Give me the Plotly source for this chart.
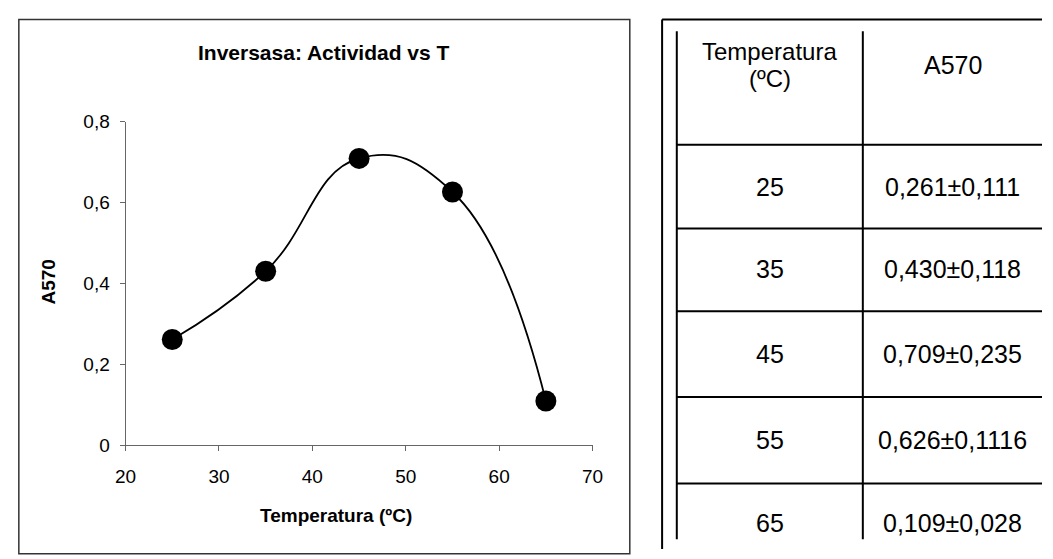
import plotly.graph_objects as go

# Inverse-sucrase activity vs temperature
temperatures = [25, 35, 45, 55, 65]
a570_mean = [0.261, 0.430, 0.709, 0.626, 0.109]
a570_sd_text = ["0,111", "0,118", "0,235", "0,1116", "0,028"]

x_ticks = [20, 30, 40, 50, 60, 70]
y_ticks = [0, 0.2, 0.4, 0.6, 0.8]

W, H = 1053, 559
FONT = "Arial, Liberation Sans, sans-serif"


def px(x):
    return x / W


def py(y):
    return 1 - y / H


fig = go.Figure()
fig.add_trace(go.Scatter(
    x=temperatures, y=a570_mean, mode="lines+markers",
    line=dict(color="black", width=1.8, shape="spline", smoothing=1.3),
    marker=dict(color="black", size=21),
    showlegend=False, hoverinfo="skip",
))

axis_font = dict(family=FONT, size=19, color="black")
fig.update_layout(
    width=W, height=H,
    margin=dict(l=0, r=0, t=0, b=0),
    paper_bgcolor="white", plot_bgcolor="white",
    separators=",.",
    xaxis=dict(
        domain=[px(117), px(594)], range=[20, 70],
        tickvals=x_ticks, ticks="outside", ticklen=5, tickcolor="#666",
        showline=True, linecolor="#666", linewidth=1,
        showgrid=False, zeroline=False, tickfont=axis_font,
        ticklabelstandoff=9,
    ),
    yaxis=dict(
        domain=[py(452), py(116)], range=[0, 0.8],
        tickvals=y_ticks, ticks="outside", ticklen=5, tickcolor="#666",
        showline=True, linecolor="#666", linewidth=1,
        showgrid=False, zeroline=False, tickfont=axis_font,
        ticklabelstandoff=6,
    ),
)

shapes = []
# frame around the chart
shapes.append(dict(type="rect", xref="paper", yref="paper",
                   x0=px(8), x1=px(632), y0=py(565), y1=py(10),
                   line=dict(color="#333", width=1.5)))


def line(x0, y0, x1, y1):
    shapes.append(dict(type="line", xref="paper", yref="paper",
                       x0=px(x0), y0=py(y0), x1=px(x1), y1=py(y1),
                       line=dict(color="black", width=2)))


# table rules
line(665, 10, 1053, 10)
line(665, 10, 665, 560)
line(680, 22, 680, 550)
line(870, 22, 870, 550)
row_lines = [140, 227, 313, 402, 492]
for yl in row_lines:
    line(680, yl, 1053, yl)

annotations = [
    dict(text="<b>Inversasa: Actividad vs T</b>", x=px(320), y=py(44),
         font=dict(family=FONT, size=21, color="black")),
    dict(text="<b>Temperatura (ºC)</b>", x=px(332), y=py(525),
         font=dict(family=FONT, size=19, color="black")),
    dict(text="<b>A570</b>", x=px(38), y=py(283), textangle=-90,
         font=dict(family=FONT, size=19, color="black")),
    dict(text="Temperatura", x=px(775), y=py(43),
         font=dict(family=FONT, size=24, color="black")),
    dict(text="(ºC)", x=px(775), y=py(71),
         font=dict(family=FONT, size=24, color="black")),
    dict(text="A570", x=px(962), y=py(57),
         font=dict(family=FONT, size=25, color="black")),
]

row_centers = [184, 269, 357, 447, 533]
for t, m, sd, yc in zip(temperatures, a570_mean, a570_sd_text, row_centers):
    mean_txt = f"{m:.3f}".replace(".", ",")
    annotations.append(dict(text=str(t), x=px(775), y=py(yc),
                            font=dict(family=FONT, size=25, color="black")))
    annotations.append(dict(text=f"{mean_txt}±{sd}", x=px(962), y=py(yc),
                            font=dict(family=FONT, size=25, color="black")))

for a in annotations:
    a.update(xref="paper", yref="paper", showarrow=False,
             xanchor="center", yanchor="middle")

fig.update_layout(shapes=shapes, annotations=annotations)
fig.write_html("out.html")
